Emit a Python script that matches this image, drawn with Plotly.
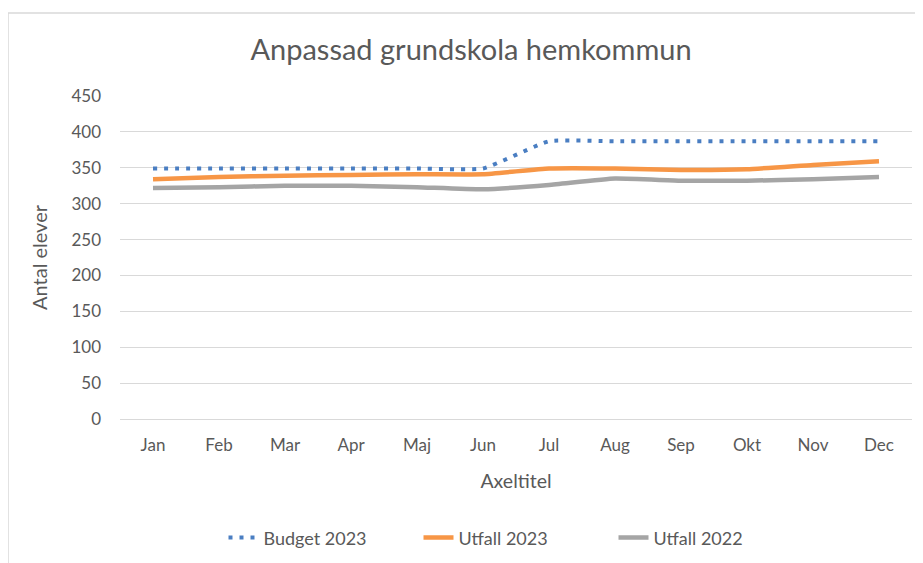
import plotly.graph_objects as go

months = ["Jan", "Feb", "Mar", "Apr", "Maj", "Jun", "Jul", "Aug", "Sep", "Okt", "Nov", "Dec"]
budget_2023 = [349, 349, 349, 349, 349, 349, 387, 387, 387, 387, 387, 387]
utfall_2023 = [334, 337, 339, 340, 341, 341, 349, 349, 347, 348, 354, 359]
utfall_2022 = [322, 323, 325, 325, 323, 320, 326, 335, 332, 332, 334, 337]

TEXT = "#595959"
GRID = "#D9D9D9"
FONT = "Lato"

fig = go.Figure()
fig.add_trace(
    go.Scatter(
        x=months, y=budget_2023, name="Budget 2023", mode="lines",
        line=dict(color="#4A7EC2", width=4, dash="4px,7px", shape="spline", smoothing=0.4),
    )
)
fig.add_trace(
    go.Scatter(
        x=months, y=utfall_2023, name="Utfall 2023", mode="lines",
        line=dict(color="#F79646", width=4.5, shape="spline", smoothing=0.4),
    )
)
fig.add_trace(
    go.Scatter(
        x=months, y=utfall_2022, name="Utfall 2022", mode="lines",
        line=dict(color="#A5A5A5", width=4.5, shape="spline", smoothing=0.4),
    )
)

# chart frame (cropped on the right and bottom in the original)
fig.add_shape(
    type="rect", xref="paper", yref="paper",
    x0=-0.1414, x1=1.2, y0=-0.7, y1=1.257,
    line=dict(color=GRID, width=1.5), layer="below",
)

# the page body adds an 8px offset, so the layout is shifted up/left by 8px
fig.update_layout(
    width=923, height=563,
    margin=dict(l=112, r=19, t=88, b=152),
    paper_bgcolor="white", plot_bgcolor="white",
    font=dict(family=FONT, color=TEXT, size=17),
    title=dict(
        text="Anpassad grundskola hemkommun",
        x=(471 - 8) / 923, xref="container", xanchor="center",
        y=1 - 42 / 563, yref="container", yanchor="middle",
        font=dict(size=29, color=TEXT, family=FONT),
    ),
    showlegend=True,
    legend=dict(
        orientation="h", x=0.5, xanchor="center", y=-0.368, yanchor="middle",
        font=dict(size=18, color=TEXT), itemwidth=30,
        entrywidth=150, entrywidthmode="pixels",
    ),
)
fig.update_xaxes(
    range=[-0.5, 11.5], showgrid=False, showline=False, ticks="",
    ticklabelstandoff=14, automargin=False,
    title=dict(text="Axeltitel", font=dict(size=19.5, color=TEXT), standoff=20),
)
fig.update_yaxes(
    range=[0, 450], dtick=50, showgrid=True, gridcolor=GRID, gridwidth=1.3,
    zeroline=True, zerolinecolor=GRID, zerolinewidth=1.3,
    showline=False, ticks="", ticklabelstandoff=18, automargin=False,
    title=dict(text="Antal elever", font=dict(size=20, color=TEXT), standoff=18),
)

fig.write_html("out.html")
